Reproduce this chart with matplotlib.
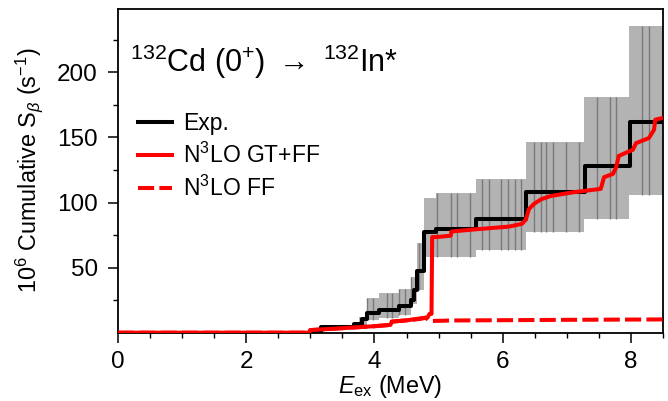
import numpy as np
import matplotlib
matplotlib.use("Agg")
import matplotlib.pyplot as plt

plt.rcParams['font.family'] = ['Liberation Sans', 'DejaVu Sans']
plt.rcParams['mathtext.fontset'] = 'custom'
plt.rcParams['mathtext.rm'] = 'Liberation Sans'
plt.rcParams['mathtext.it'] = 'Liberation Sans:italic'
plt.rcParams['mathtext.bf'] = 'Liberation Sans:bold'

# ---- Experimental cumulative strength (step function) ----
exp_E = [0.0, 3.16, 3.68, 3.80, 3.88, 4.07, 4.38, 4.57, 4.62, 4.67, 4.77, 4.96, 5.58, 6.37, 7.28, 7.98, 8.5]
exp_S = [0.0, 4.6, 6.5, 10.5, 15.0, 17.5, 20.5, 25.0, 33.0, 47.7, 77.0, 79.5, 87.2, 108.0, 128.0, 161.5, 161.5]

# ---- Experimental uncertainty band (step edges, upper, lower) ----
band_E = [3.76, 3.88, 4.07, 4.38, 4.57, 4.67, 4.77, 4.96, 5.58, 6.37, 7.27, 7.97, 8.5]
band_hi = [12.0, 26.5, 30.3, 33.4, 43.0, 68.8, 103.4, 107.5, 118.0, 146.5, 181.0, 235.4, 235.4]
band_lo = [6.0, 9.8, 11.0, 13.6, 22.0, 32.8, 58.5, 58.5, 63.6, 77.7, 87.5, 105.4, 105.4]

# level energies drawn as thin error lines inside the band
level_E = [3.82, 3.89, 3.98, 4.19, 4.28, 4.38, 4.48, 4.57, 4.69, 4.98, 5.19, 5.28, 5.49,
           5.68, 5.79, 5.98, 6.09, 6.19, 6.28, 6.49, 6.59, 6.68, 6.78, 6.99, 7.19,
           7.47, 7.67, 7.77, 8.17, 8.28]

# ---- N3LO GT+FF ----
gtff_E = [0.0, 2.98, 3.0, 3.5, 4.0, 4.25, 4.27, 4.5, 4.83, 4.86, 4.89, 4.90, 5.0, 5.19, 5.20,
          5.55, 6.1, 6.3, 6.36, 6.41, 6.49, 6.6, 6.75, 7.08, 7.53, 7.58, 7.72, 7.77, 7.81,
          8.03, 8.08, 8.28, 8.36, 8.38, 8.5]
gtff_S = [0.0, 0.0, 2.0, 3.5, 5.0, 6.0, 8.5, 9.5, 11.8, 14.5, 14.5, 73.4, 73.6, 74.5, 77.7,
          79.3, 81.5, 83.6, 86.8, 95.0, 99.0, 102.5, 105.0, 107.7, 110.5, 119.4, 122.0, 127.0, 135.8,
          140.5, 145.6, 149.5, 155.9, 163.6, 165.0]

# ---- N3LO FF ----
ff_E = [0.0, 2.98, 3.0, 3.5, 4.0, 4.25, 4.27, 4.5, 4.7, 4.8, 4.85, 4.9, 5.2, 6.0, 7.0, 8.5]
ff_S = [0.0, 0.0, 2.0, 3.5, 5.0, 6.0, 8.5, 9.5, 10.5, 11.5, 9.5, 9.0, 9.4, 9.6, 9.9, 10.2]

fig = plt.figure(figsize=(6.68, 4.01), dpi=100)
ax = fig.add_axes([0.1766, 0.1703, 0.8159, 0.8085])

# band
ax.fill_between(band_E, band_lo, band_hi, step='post', color='#b3b3b3', lw=0, zorder=1)
bE = np.array(band_E)
for e in level_E:
    i = np.searchsorted(bE, e, side='right') - 1
    ax.vlines(e, band_lo[i], band_hi[i], color='#7a7a7a', lw=1.0, zorder=2)

ax.step(exp_E, exp_S, where='post', color='black', lw=2.9, zorder=4, label='Exp.')
ax.plot(gtff_E, gtff_S, color='red', lw=2.9, zorder=5, label='N$^3$LO GT+FF')
ax.plot(ff_E, ff_S, color='red', lw=2.9, ls=(0, (4.0, 1.3)), zorder=3, label='N$^3$LO FF')

ax.set_xlim(0, 8.5)
ax.set_ylim(0, 249)
ax.set_xticks([0, 2, 4, 6, 8])
ax.set_xticks(np.arange(0, 8.51, 0.5), minor=True)
ax.set_yticks([50, 100, 150, 200])
ax.set_yticks([25, 75, 125, 175, 225], minor=True)
ax.tick_params(which='major', direction='out', length=7, width=1.1, labelsize=17.5, pad=6)
ax.tick_params(axis='y', which='major', pad=7.5)
ax.tick_params(which='minor', direction='out', length=3.6, width=1.0)
for s in ax.spines.values():
    s.set_linewidth(1.3)

ax.set_xlabel(r'$E_{\rm ex}$ (MeV)', fontsize=16.8, labelpad=0)
ax.set_ylabel(r'10$^6$ Cumulative S$_\beta$ (s$^{-1}$)', fontsize=16.8, labelpad=9)

ax.text(0.022, 0.805, r'$^{132}$Cd (0$^{+}$) $\rightarrow$ $^{132}$In*', transform=ax.transAxes,
        fontsize=22, va='baseline', ha='left')

leg = ax.legend(loc='upper left', bbox_to_anchor=(0.02, 0.708), frameon=False, fontsize=16.5,
                handlelength=1.5, handletextpad=0.45, labelspacing=0.33, borderaxespad=0)

fig.savefig('out.png', dpi=100)
